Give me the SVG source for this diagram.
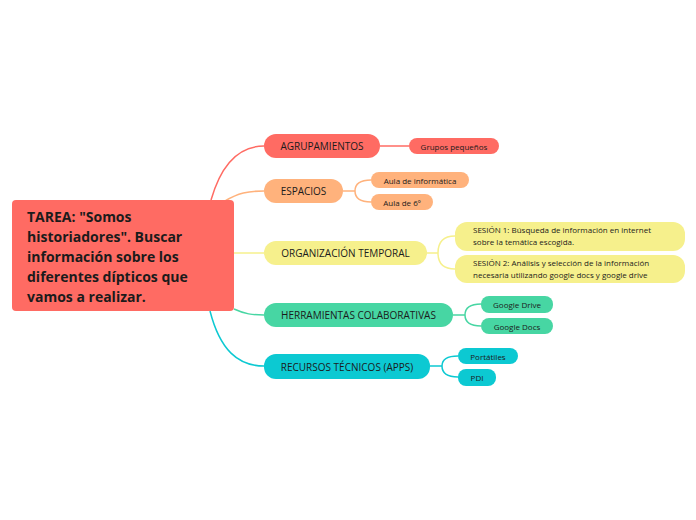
<svg xmlns="http://www.w3.org/2000/svg" width="696" height="520" viewBox="0 0 696 520">
<style>
text{font-family:"Open Sans","Noto Sans","Liberation Sans",sans-serif;fill:#1b1b1b}
.m{font-size:10px;text-anchor:middle;dominant-baseline:central}
.s{font-size:8px;text-anchor:middle;dominant-baseline:central}
.l{font-size:8px}
.root{font-size:14px;font-weight:bold}
.c{fill:none;stroke-width:1.5}
.red{fill:#ff6b63}.pe{fill:#ffb27c}.ye{fill:#f6f08c}.gr{fill:#47d6a3}.cy{fill:#0cc9d2}
</style>
<rect width="696" height="520" fill="#ffffff"/>
<g id="connectors">
<path class="c" stroke="#ff6b63" d="M211,200 C221,165 238,146 264,146"/>
<path class="c" stroke="#ffb27c" d="M225,201 C238,193 248,191 264,191"/>
<path class="c" stroke="#f6f08c" d="M234,253 L264,253"/>
<path class="c" stroke="#47d6a3" d="M234,309 C245,314 252,315 264,315"/>
<path class="c" stroke="#0cc9d2" d="M210,311 C220,350 238,366 264,366"/>
<path class="c" stroke="#ff6b63" d="M380,146 L409,146"/>
<path class="c" stroke="#ffb27c" d="M343,191 L355,191 M355,191 C355,183 361,180 371,180 M355,191 C355,199 361,202 371,202"/>
<path class="c" stroke="#f6f08c" d="M427,253 L438,253 M438,253 C438,242 444,236 455,236 M438,253 C438,264 444,269 455,269"/>
<path class="c" stroke="#47d6a3" d="M453,315 L465,315 M465,315 C465,307 471,304 481,304 M465,315 C465,323 471,326 481,326"/>
<path class="c" stroke="#0cc9d2" d="M430,366 L442,366 M442,366 C442,359 448,356 458,356 M442,366 C442,374 448,377 458,377"/>
</g>
<g id="root">
<rect class="red" x="12" y="200" width="222" height="111" rx="4"/>
<text class="root" x="27" y="222">TAREA: "Somos</text>
<text class="root" x="27" y="242">historiadores". Buscar</text>
<text class="root" x="27" y="262">información sobre los</text>
<text class="root" x="27" y="282">diferentes dípticos que</text>
<text class="root" x="27" y="302">vamos a realizar.</text>
</g>
<g id="agrupamientos">
<rect class="red" x="264" y="134" width="116" height="24" rx="12"/>
<text class="m" x="322" y="146">AGRUPAMIENTOS</text>
</g>
<g id="grupos">
<rect class="red" x="409" y="138" width="90" height="16" rx="8"/>
<text class="s" x="454" y="146">Grupos pequeños</text>
</g>
<g id="espacios">
<rect class="pe" x="264" y="179" width="79" height="24" rx="12"/>
<text class="m" x="303.5" y="191">ESPACIOS</text>
</g>
<g id="aula-info">
<rect class="pe" x="371" y="172" width="98" height="16" rx="8"/>
<text class="s" x="420" y="180">Aula de informática</text>
</g>
<g id="aula-6">
<rect class="pe" x="371" y="194" width="62" height="16" rx="8"/>
<text class="s" x="402" y="202">Aula de 6º</text>
</g>
<g id="organizacion">
<rect class="ye" x="264" y="241" width="163" height="24" rx="12"/>
<text class="m" x="345.5" y="253">ORGANIZACIÓN TEMPORAL</text>
</g>
<g id="sesion1">
<rect class="ye" x="455" y="222" width="230" height="29" rx="12"/>
<text class="l" x="473" y="233">SESIÓN 1: Búsqueda de información en internet</text>
<text class="l" x="473" y="245">sobre la temática escogida.</text>
</g>
<g id="sesion2">
<rect class="ye" x="455" y="255" width="230" height="28" rx="12"/>
<text class="l" x="473" y="266">SESIÓN 2: Análisis y selección de la información</text>
<text class="l" x="473" y="278">necesaria utilizando google docs y google drive</text>
</g>
<g id="herramientas">
<rect class="gr" x="264" y="303" width="189" height="24" rx="12"/>
<text class="m" x="358.5" y="315">HERRAMIENTAS COLABORATIVAS</text>
</g>
<g id="gdrive">
<rect class="gr" x="481" y="296" width="72" height="17" rx="8"/>
<text class="s" x="517" y="304.5">Google Drive</text>
</g>
<g id="gdocs">
<rect class="gr" x="481" y="318" width="72" height="16" rx="8"/>
<text class="s" x="517" y="326">Google Docs</text>
</g>
<g id="recursos">
<rect class="cy" x="264" y="354" width="166" height="25" rx="12"/>
<text class="m" x="347" y="366.5">RECURSOS TÉCNICOS (APPS)</text>
</g>
<g id="portatiles">
<rect class="cy" x="458" y="348" width="60" height="16" rx="8"/>
<text class="s" x="488" y="356">Portátiles</text>
</g>
<g id="pdi">
<rect class="cy" x="458" y="369" width="38" height="17" rx="8"/>
<text class="s" x="477" y="377.5">PDI</text>
</g>
</svg>
